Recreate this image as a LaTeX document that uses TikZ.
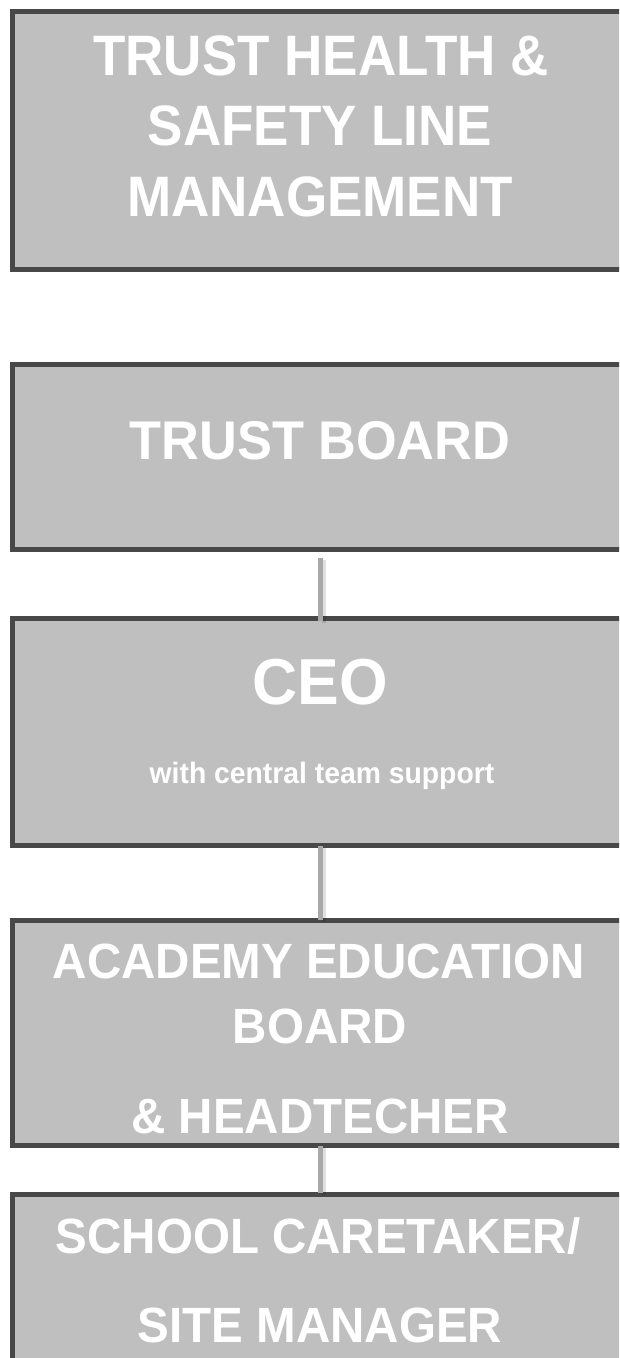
\documentclass[tikz,border=0pt]{standalone}
\usepackage{fontspec}
\usetikzlibrary{calc}
\newfontfamily\bx{Liberation Sans Bold}[FakeStretch=0.96]
\newfontfamily\bxn{Liberation Sans Bold}[FakeStretch=0.93]
\definecolor{boxfill}{HTML}{BFBFBF}
\definecolor{boxline}{HTML}{484848}
\definecolor{connline}{HTML}{A9A9A9}
\newcommand{\fs}[1]{\bx\fontsize{#1}{#1}\selectfont}
\newcommand{\fsn}[1]{\bxn\fontsize{#1}{#1}\selectfont}
\tikzset{
  orgbox/.style={draw=boxline, fill=boxfill, line width=5pt, inner sep=0pt,
    minimum width=625pt, anchor=north west},
  lbl/.style={text=white, inner sep=0pt, anchor=base},
  conn/.style={draw=connline, line width=5pt},
  connshadow/.style={draw=black, draw opacity=0.12, line width=4pt}
}
\begin{document}
\begin{tikzpicture}[x=1pt,y=-1pt]
\useasboundingbox (0,0) rectangle (619,1358);
\clip (0,0) rectangle (619,1358);
\fill[white] (0,0) rectangle (619,1358);
% boxes
\node[orgbox, minimum height=258pt] (b1) at (10,9) {};
\node[orgbox, minimum height=185pt] (b2) at (10,362) {};
\node[orgbox, minimum height=227pt] (b3) at (10,616) {};
\node[orgbox, minimum height=225pt] (b4) at (10,918) {};
\node[orgbox, minimum height=210pt] (b5) at (10,1192) {};
% texts
\node[lbl, font=\fsn{57}] (t1a) at (321,75) {TRUST HEALTH \&};
\node[lbl, font=\fsn{57}] (t1b) at (320,145) {SAFETY LINE};
\node[lbl, font=\fsn{57}] (t1c) at (320,216) {MANAGEMENT};
\node[lbl, font=\fs{54.5}] (t2) at (320,459) {TRUST BOARD};
\node[lbl, font=\fs{65}] (t3) at (320,704) {CEO};
\node[lbl, font=\fs{29.5}] (t3b) at (322,783) {with central team support};
\node[lbl, font=\fs{49.5}] (t4a) at (319,978) {ACADEMY EDUCATION};
\node[lbl, font=\fs{49.5}] (t4b) at (320,1043) {BOARD};
\node[lbl, font=\fs{49.5}] (t4c) at (320,1133) {\& HEADTECHER};
\node[lbl, font=\fs{49.5}] (t5a) at (318,1253) {SCHOOL CARETAKER/};
\node[lbl, font=\fs{49.5}] (t5b) at (320,1342) {SITE MANAGER};
% connectors
\coordinate (cx) at (320.5,0);
\draw[connshadow] ($(b2.south -| cx)+(3,8)$) -- ($(b3.north -| cx)+(3,7)$);
\draw[conn] ($(b2.south -| cx)+(0,6)$) -- ($(b3.north -| cx)+(0,5)$);
\draw[connshadow] ($(b3.south -| cx)+(3,0)$) -- ($(b4.north -| cx)+(3,4)$);
\draw[conn] ($(b3.south -| cx)+(0,-2)$) -- ($(b4.north -| cx)+(0,2)$);
\draw[connshadow] ($(b4.south -| cx)+(3,0)$) -- ($(b5.north -| cx)+(3,3)$);
\draw[conn] ($(b4.south -| cx)+(0,-2)$) -- ($(b5.north -| cx)+(0,1)$);
\end{tikzpicture}
\end{document}
